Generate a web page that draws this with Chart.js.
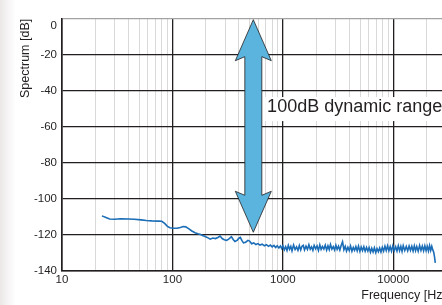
<!DOCTYPE html>
<html lang="en">
<head>
<meta charset="UTF-8">
<title>Spectrum</title>
<script src="https://cdn.jsdelivr.net/npm/chart.js"></script>
<style>
  html, body { margin: 0; padding: 0; overflow: hidden; }
  body { width: 442px; height: 305px; background: linear-gradient(to right, #ebe7e7 0, #f6f4f4 8px, #fff 16px); }
  canvas { display: block; }
</style>
</head>
<body>
<canvas id="chart" width="460" height="305"></canvas>
<script>
// measured spectrum, Hz / dB
const freqs = [
  23, 25, 27, 30, 34, 40, 45, 52, 58, 65, 75, 80, 85, 90, 95,
  102, 110, 118, 125, 132, 140, 150, 160, 170, 180, 190, 200, 210, 220, 232,
  245, 258, 270, 282, 295, 310, 325, 342, 355, 368, 385, 400, 412, 425, 440,
  460, 483, 500, 521, 545, 570, 595, 620, 650, 680, 710, 740, 770, 800, 830,
  860, 890, 920, 950, 975,
  1000, 1030, 1060, 1090, 1120, 1150, 1180, 1210, 1250, 1290, 1330, 1370, 1410, 1450, 1490,
  1530, 1570, 1620, 1670, 1720, 1770, 1820, 1870, 1920, 1980,
  2040, 2100, 2160, 2220, 2280, 2350, 2420, 2490, 2560, 2630,
  2700, 2780, 2860, 2940, 3020, 3100, 3190, 3280, 3370,
  3470, 3570,
  3670, 3770, 3880, 3990, 4100, 4220, 4340, 4460, 4580, 4710,
  4840, 4980, 5120, 5260, 5410, 5560, 5720, 5880,
  6040, 6210, 6380, 6560, 6740, 6930, 7120, 7320, 7520, 7730, 7950,
  8170, 8400, 8630, 8870, 9120, 9370, 9630, 9900, 10200, 10500,
  10800, 11100, 11400, 11700, 12000, 12300, 12700, 13100, 13500, 13900,
  14300, 14700, 15100, 15500, 15900, 16300, 16800, 17300, 17800, 18300,
  18800, 19300, 19800, 20300, 20800, 21300, 21800, 22300, 22800,
  23200, 23600, 24000
];
const levels = [
  -109.4, -110.3, -111.1, -111.3, -111.0, -111.1, -111.3, -111.6, -112.0, -112.2, -112.3, -112.4, -113.6, -115.2, -116.0,
  -116.3, -116.3, -115.8, -115.3, -115.5, -116.5, -117.8, -118.8, -119.3, -119.7, -120.4, -121.0, -121.6, -122.3, -121.7,
  -122.0, -121.4, -120.6, -122.0, -122.6, -123.0, -122.2, -121.0, -122.5, -123.6, -123.0, -121.8, -121.3, -123.0, -124.4,
  -124.0, -123.0, -123.4, -124.9, -124.4, -125.3, -124.8, -125.6, -125.1, -126.0, -125.4, -126.3, -125.6, -126.6, -125.8,
  -127.0, -126.0, -127.2, -126.1, -127.5,
  -126.0, -128.2, -126.5, -128.6, -125.8, -127.9, -126.3, -128.8, -125.6, -128.1, -126.6, -128.5, -125.9, -128.3, -126.2,
  -125.7, -128.3, -126.2, -128.0, -125.4, -127.9, -126.6, -128.5, -125.8, -127.7,
  -126.1, -128.6, -125.5, -128.0, -126.4, -127.8, -125.6, -128.4, -126.0, -128.1,
  -125.3, -127.9, -126.5, -128.3, -125.7, -128.0, -126.2, -128.4, -125.8,
  -123.8, -128.2,
  -126.3, -128.9, -126.8, -128.6, -126.1, -129.0, -126.9, -128.5, -126.4, -128.8,
  -126.2, -129.1, -126.7, -128.7, -126.5, -129.0, -126.9, -128.9,
  -127.0, -129.6, -127.4, -129.4, -127.1, -129.7, -127.5, -129.3, -127.2, -129.5, -126.9,
  -128.9, -126.2, -128.7, -126.0, -128.8, -126.4, -129.0, -126.1, -128.6, -126.5,
  -128.9, -126.0, -128.7, -126.3, -129.1, -125.9, -128.6, -126.4, -128.8, -126.1,
  -128.5, -126.3, -128.9, -126.0, -128.7, -126.4, -129.0, -125.8, -128.6, -126.2,
  -128.8, -126.0, -128.7, -126.3, -128.9, -125.9, -128.6, -126.3, -128.4,
  -129.5, -132.0, -135.5
];

// axes
const xGrid = [
  10, 20, 30, 40, 50, 60, 70, 80, 90,
  100, 200, 300, 400, 500, 600, 700, 800, 900,
  1000, 2000, 3000, 4000, 5000, 6000, 7000, 8000, 9000,
  10000, 20000
];
const xLabels = [10, 100, 1000, 10000];
const yTicks = [-140, -120, -100, -80, -60, -40, -20, 0];

// annotation
const arrowFreq = 540, arrowTop = -0.5, arrowBottom = -118.5;
const noteText = '100dB dynamic range', noteFreq = 720, noteLevel = -49;

const dark = '#231f20';
const light = '#d9d9d9';
const fontFamily = '"Liberation Sans", Arial, sans-serif';

const arrowPlugin = {
  id: 'arrow',
  afterDatasetsDraw(chart) {
    const { ctx, scales: { x, y } } = chart;
    const cx = x.getPixelForValue(arrowFreq);
    const t = y.getPixelForValue(arrowTop);
    const b = y.getPixelForValue(arrowBottom);
    const sw = 8.5, hw = 18, hl = 41, sweep = 4;

    ctx.save();
    ctx.beginPath();
    ctx.moveTo(cx, t);
    ctx.lineTo(cx + hw, t + hl);
    ctx.lineTo(cx + sw, t + hl - sweep);
    ctx.lineTo(cx + sw, b - hl + sweep);
    ctx.lineTo(cx + hw, b - hl);
    ctx.lineTo(cx, b);
    ctx.lineTo(cx - hw, b - hl);
    ctx.lineTo(cx - sw, b - hl + sweep);
    ctx.lineTo(cx - sw, t + hl - sweep);
    ctx.lineTo(cx - hw, t + hl);
    ctx.closePath();
    ctx.fillStyle = '#5bb4de';
    ctx.fill();
    ctx.lineWidth = 0.8;
    ctx.strokeStyle = dark;
    ctx.stroke();

    // label with white box
    ctx.font = '18px ' + fontFamily;
    const tx = x.getPixelForValue(noteFreq);
    const ty = y.getPixelForValue(noteLevel);
    const w = ctx.measureText(noteText).width;
    ctx.fillStyle = '#fff';
    ctx.fillRect(tx - 2, ty - 10, w + 4, 24);
    ctx.fillStyle = dark;
    ctx.textBaseline = 'middle';
    ctx.fillText(noteText, tx, ty);
    ctx.restore();
  }
};

new Chart(document.getElementById('chart'), {
  type: 'line',
  data: {
    datasets: [{
      data: freqs.map((f, i) => ({ x: f, y: levels[i] })),
      borderColor: '#1a6db6',
      borderWidth: 1.6,
      pointRadius: 0,
      tension: 0,
      fill: false
    }]
  },
  options: {
    responsive: false,
    animation: false,
    devicePixelRatio: 1,
    layout: { padding: { top: 16, right: 14, left: 0, bottom: 0 } },
    plugins: { legend: { display: false }, tooltip: { enabled: false } },
    scales: {
      x: {
        type: 'logarithmic',
        min: 10,
        max: 30000,
        afterBuildTicks: s => { s.ticks = xGrid.map(v => ({ value: v })); },
        afterFit: s => { s.height = 34; },
        ticks: {
          autoSkip: false,
          maxRotation: 0,
          padding: 2,
          color: dark,
          font: { family: fontFamily, size: 11.5 },
          callback: v => xLabels.includes(v) ? String(v) : ''
        },
        grid: {
          drawTicks: false,
          color: c => xLabels.includes(c.tick.value) ? dark : light,
          lineWidth: c => xLabels.includes(c.tick.value) ? 1.3 : 1
        },
        border: { color: dark, width: 1.4 },
        title: {
          display: true,
          text: 'Frequency [Hz]',
          align: 'end',
          color: dark,
          padding: { top: 0, bottom: 2 },
          font: { family: fontFamily, size: 12.5 }
        }
      },
      y: {
        min: -140,
        max: 0,
        afterBuildTicks: s => { s.ticks = yTicks.map(v => ({ value: v })); },
        afterFit: s => { s.width = 62; },
        ticks: {
          padding: 5,
          color: dark,
          font: { family: fontFamily, size: 11.5 },
          // top label sits a little below its line in the original
          callback: v => v === 0 ? ['', '0'] : String(v)
        },
        grid: {
          drawTicks: false,
          color: c => c.tick.value === 0 ? '#a3a3a3' : dark,
          lineWidth: 1.3
        },
        border: { color: dark, width: 1.6 },
        title: {
          display: true,
          text: 'Spectrum [dB]',
          align: 'end',
          color: dark,
          padding: { top: 18, bottom: 0 },
          font: { family: fontFamily, size: 12.5 }
        }
      }
    }
  },
  plugins: [arrowPlugin]
});
</script>
</body>
</html>
